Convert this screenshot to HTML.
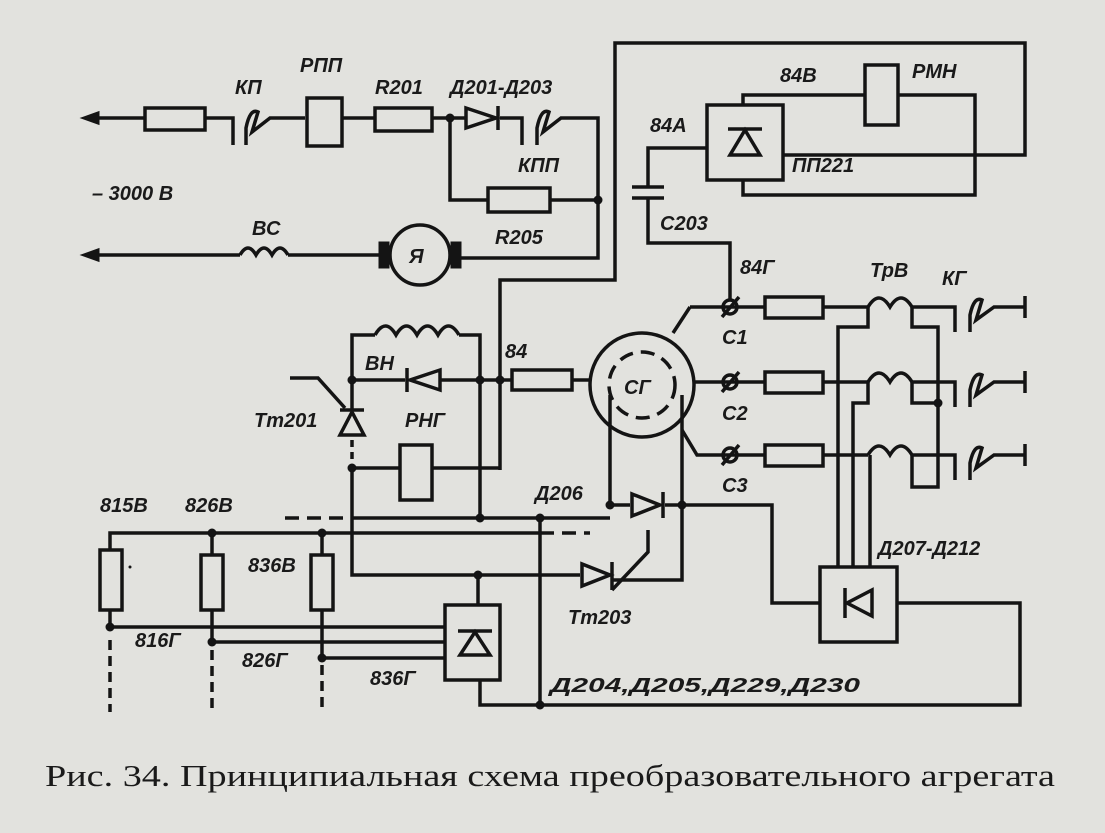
<!DOCTYPE html>
<html><head><meta charset="utf-8"><style>
html,body{margin:0;padding:0;background:#e2e2de;}
svg{display:block}
text{font-family:"Liberation Sans",sans-serif;font-style:italic;font-weight:bold;font-size:20px;fill:#1a1a1a;}
.cap{font-family:"Liberation Serif",serif;font-style:normal;font-weight:normal;font-size:31px;}
</style></head><body>
<svg width="1105" height="833" viewBox="0 0 1105 833" xmlns="http://www.w3.org/2000/svg">
<rect width="1105" height="833" fill="#e2e2de"/>
<g stroke="#141414" stroke-width="3.5" fill="none" stroke-linejoin="miter">
<polyline points="92,118 145,118"/>
<rect x="145" y="108" width="60" height="22"/>
<polyline points="205,118 233,118 233,145"/>
<path d="M246,145 L246,128 Q250,108 258,112 L252,132 L270,118 L305,118"/>
<rect x="307" y="98" width="35" height="48"/>
<polyline points="342,118 375,118"/>
<rect x="375" y="108" width="57" height="23"/>
<polyline points="432,118 465,118"/>
<polyline points="500,118 522,118 522,145"/>
<path d="M537,145 L537,128 Q541,108 549,112 L543,132 L561,118 L598,118 L598,258 L460,258"/>
<polyline points="450,118 450,200 488,200"/>
<rect x="488" y="188" width="62" height="24"/>
<polyline points="550,200 598,200"/>
<circle cx="420" cy="255" r="30"/>
<polyline points="92,255 240,255"/>
<path d="M240,255 q8,-14 16,0 q8,-14 16,0 q8,-14 16,0"/>
<polyline points="288,255 382,255"/>
<polyline points="500,470 500,280 615,280 615,43 1025,43 1025,155 783,155"/>
<rect x="707" y="105" width="76" height="75"/>
<polyline points="743,105 743,95 865,95"/>
<rect x="865" y="65" width="33" height="60"/>
<polyline points="898,95 975,95 975,195 743,195 743,180"/>
<polyline points="707,148 648,148 648,187"/>
<polyline points="648,198 648,243 730,243 730,300"/>
<polyline points="690,307 765,307"/>
<polyline points="673,333 690,307"/>
<rect x="765" y="297" width="58" height="21"/>
<polyline points="823,307 868,307"/>
<path d="M868,307 q11,-18 22,0 q11,-18 22,0"/>
<polyline points="912,307 955,307 955,332"/>
<path d="M970,332 L970,315 Q974,296 982,300 L976,320 L994,307 L1025,307 M1025,296 L1025,318"/>
<polyline points="694,382 765,382"/>
<rect x="765" y="372" width="58" height="21"/>
<polyline points="823,382 868,382"/>
<path d="M868,382 q11,-18 22,0 q11,-18 22,0"/>
<polyline points="912,382 955,382 955,407"/>
<path d="M970,407 L970,390 Q974,371 982,375 L976,395 L994,382 L1025,382 M1025,371 L1025,393"/>
<polyline points="682,430 697,455 765,455"/>
<rect x="765" y="445" width="58" height="21"/>
<polyline points="823,455 868,455"/>
<path d="M868,455 q11,-18 22,0 q11,-18 22,0"/>
<polyline points="912,455 955,455 955,480"/>
<path d="M970,480 L970,463 Q974,444 982,448 L976,468 L994,455 L1025,455 M1025,444 L1025,466"/>
<polyline points="868,307 868,327 838,327 838,567"/>
<polyline points="912,307 912,327 938,327 938,487 912,487 912,455"/>
<polyline points="912,382 912,403 938,403"/>
<polyline points="868,382 868,403 853,403 853,567"/>
<polyline points="870,455 870,567"/>
<rect x="820" y="567" width="77" height="75"/>
<polyline points="820,603 772,603 772,505 682,505"/>
<polyline points="897,603 1020,603 1020,705 480,705 480,680"/>
<circle cx="642" cy="385" r="52"/>
<circle cx="642" cy="385" r="33" stroke-dasharray="14,8"/>
<polyline points="610,395 610,505 630,505"/>
<polyline points="682,395 682,580 612,580"/>
<polyline points="572,380 590,380"/>
<polyline points="500,380 512,380"/>
<rect x="512" y="370" width="60" height="20"/>
<polyline points="352,380 352,335 375,335"/>
<path d="M375,335 q10.5,-18 21,0 q10.5,-18 21,0 q10.5,-18 21,0 q10.5,-18 21,0"/>
<polyline points="459,335 480,335 480,518"/>
<polyline points="352,380 405,380"/>
<polyline points="440,380 500,380"/>
<polyline points="352,380 352,410"/>
<polyline points="352,440 352,465" stroke-dasharray="7,5"/>
<polyline points="352,465 352,575 580,575"/>
<polyline points="290,378 318,378 345,408"/>
<rect x="400" y="445" width="32" height="55"/>
<polyline points="352,468 400,468"/>
<polyline points="432,468 500,468"/>
<polyline points="285,518 352,518" stroke-dasharray="14,8"/>
<polyline points="352,518 610,518"/>
<polyline points="110,550 110,533 540,533"/>
<polyline points="540,533 590,533" stroke-dasharray="14,8"/>
<polyline points="540,518 540,705"/>
<polyline points="212,533 212,555"/>
<polyline points="322,533 322,555"/>
<rect x="100" y="550" width="22" height="60"/>
<rect x="201" y="555" width="22" height="55"/>
<rect x="311" y="555" width="22" height="55"/>
<polyline points="110,610 110,627 445,627"/>
<polyline points="212,610 212,642 445,642"/>
<polyline points="322,610 322,658 445,658"/>
<polyline points="110,640 110,712" stroke-dasharray="10,6"/>
<polyline points="212,650 212,712" stroke-dasharray="10,6"/>
<polyline points="322,665 322,712" stroke-dasharray="10,6"/>
<rect x="445" y="605" width="55" height="75"/>
<polyline points="478,605 478,575"/>
<polyline points="612,590 648,552 648,530"/>
<polyline points="665,505 682,505"/>
</g>
<g fill="#141414" stroke="#141414" stroke-width="3">
<rect x="380" y="243" width="8" height="24"/>
<rect x="452" y="243" width="8" height="24"/>
<polygon points="84,118 98,113 98,123"/>
<polygon points="84,255 98,250 98,260"/>
</g>
<g fill="none" stroke="#141414" stroke-width="3.5">
<polygon points="466,108 466,128 496,118"/><line x1="498" y1="106" x2="498" y2="130"/>
<polygon points="440,370 440,390 410,380"/><line x1="407" y1="368" x2="407" y2="392"/>
<polygon points="340,435 364,435 352,412"/><line x1="340" y1="410" x2="364" y2="410"/>
<polygon points="632,494 632,516 660,505"/><line x1="663" y1="492" x2="663" y2="518"/>
<polygon points="582,564 582,586 610,575"/><line x1="612" y1="562" x2="612" y2="590"/>
<polygon points="730,155 760,155 745,130"/><line x1="728" y1="129" x2="762" y2="129"/>
<polygon points="460,655 490,655 475,632"/><line x1="458" y1="631" x2="492" y2="631"/>
<polygon points="872,590 872,616 847,603"/><line x1="845" y1="588" x2="845" y2="618"/>
<line x1="632" y1="187" x2="664" y2="187"/><line x1="632" y1="198" x2="664" y2="198"/>
<circle cx="730" cy="307" r="7"/><line x1="722" y1="317" x2="739" y2="297"/>
<circle cx="730" cy="382" r="7"/><line x1="722" y1="392" x2="739" y2="372"/>
<circle cx="730" cy="455" r="7"/><line x1="722" y1="465" x2="739" y2="445"/>
</g>
<g fill="#141414">
<circle cx="450" cy="118" r="4.5"/><circle cx="598" cy="200" r="4.5"/>
<circle cx="352" cy="380" r="4.5"/><circle cx="480" cy="380" r="4.5"/><circle cx="500" cy="380" r="4.5"/>
<circle cx="352" cy="468" r="4.5"/><circle cx="480" cy="518" r="4.5"/><circle cx="540" cy="518" r="4.5"/>
<circle cx="610" cy="505" r="4.5"/><circle cx="682" cy="505" r="4.5"/>
<circle cx="212" cy="533" r="4.5"/><circle cx="322" cy="533" r="4.5"/>
<circle cx="110" cy="627" r="4.5"/><circle cx="212" cy="642" r="4.5"/><circle cx="322" cy="658" r="4.5"/>
<circle cx="478" cy="575" r="4.5"/><circle cx="540" cy="705" r="4.5"/><circle cx="938" cy="403" r="4.5"/>
<circle cx="130" cy="567" r="1.5"/>
</g>
<text x="235" y="94">КП</text>
<text x="300" y="72">РПП</text>
<text x="375" y="94">R201</text>
<text x="450" y="94">Д201-Д203</text>
<text x="518" y="172">КПП</text>
<text x="495" y="244">R205</text>
<text x="92" y="200">– 3000 В</text>
<text x="252" y="235">ВС</text>
<text x="409" y="263" font-size="17">Я</text>
<text x="780" y="82" font-size="17">84В</text>
<text x="912" y="78">РМН</text>
<text x="650" y="132" font-size="17">84А</text>
<text x="792" y="172">ПП221</text>
<text x="660" y="230">С203</text>
<text x="740" y="274" font-size="17">84Г</text>
<text x="870" y="277">ТрВ</text>
<text x="942" y="285">КГ</text>
<text x="722" y="344" font-size="18">С1</text>
<text x="722" y="420" font-size="18">С2</text>
<text x="722" y="492" font-size="18">С3</text>
<text x="624" y="394" font-size="19">СГ</text>
<text x="505" y="358" font-size="17">84</text>
<text x="365" y="370">ВН</text>
<text x="254" y="427">Тт201</text>
<text x="405" y="427">РНГ</text>
<text x="535" y="500">Д206</text>
<text x="878" y="555">Д207-Д212</text>
<text x="568" y="624">Тт203</text>
<text x="550" y="692" textLength="310" lengthAdjust="spacingAndGlyphs">Д204,Д205,Д229,Д230</text>
<text x="100" y="512" font-size="17">815В</text>
<text x="185" y="512" font-size="17">826В</text>
<text x="248" y="572" font-size="17">836В</text>
<text x="135" y="647" font-size="17">816Г</text>
<text x="242" y="667" font-size="17">826Г</text>
<text x="370" y="685" font-size="17">836Г</text>
<text class="cap" x="45" y="786" textLength="1010" lengthAdjust="spacingAndGlyphs">Рис. 34. Принципиальная схема преобразовательного агрегата</text>
</svg>
</body></html>
